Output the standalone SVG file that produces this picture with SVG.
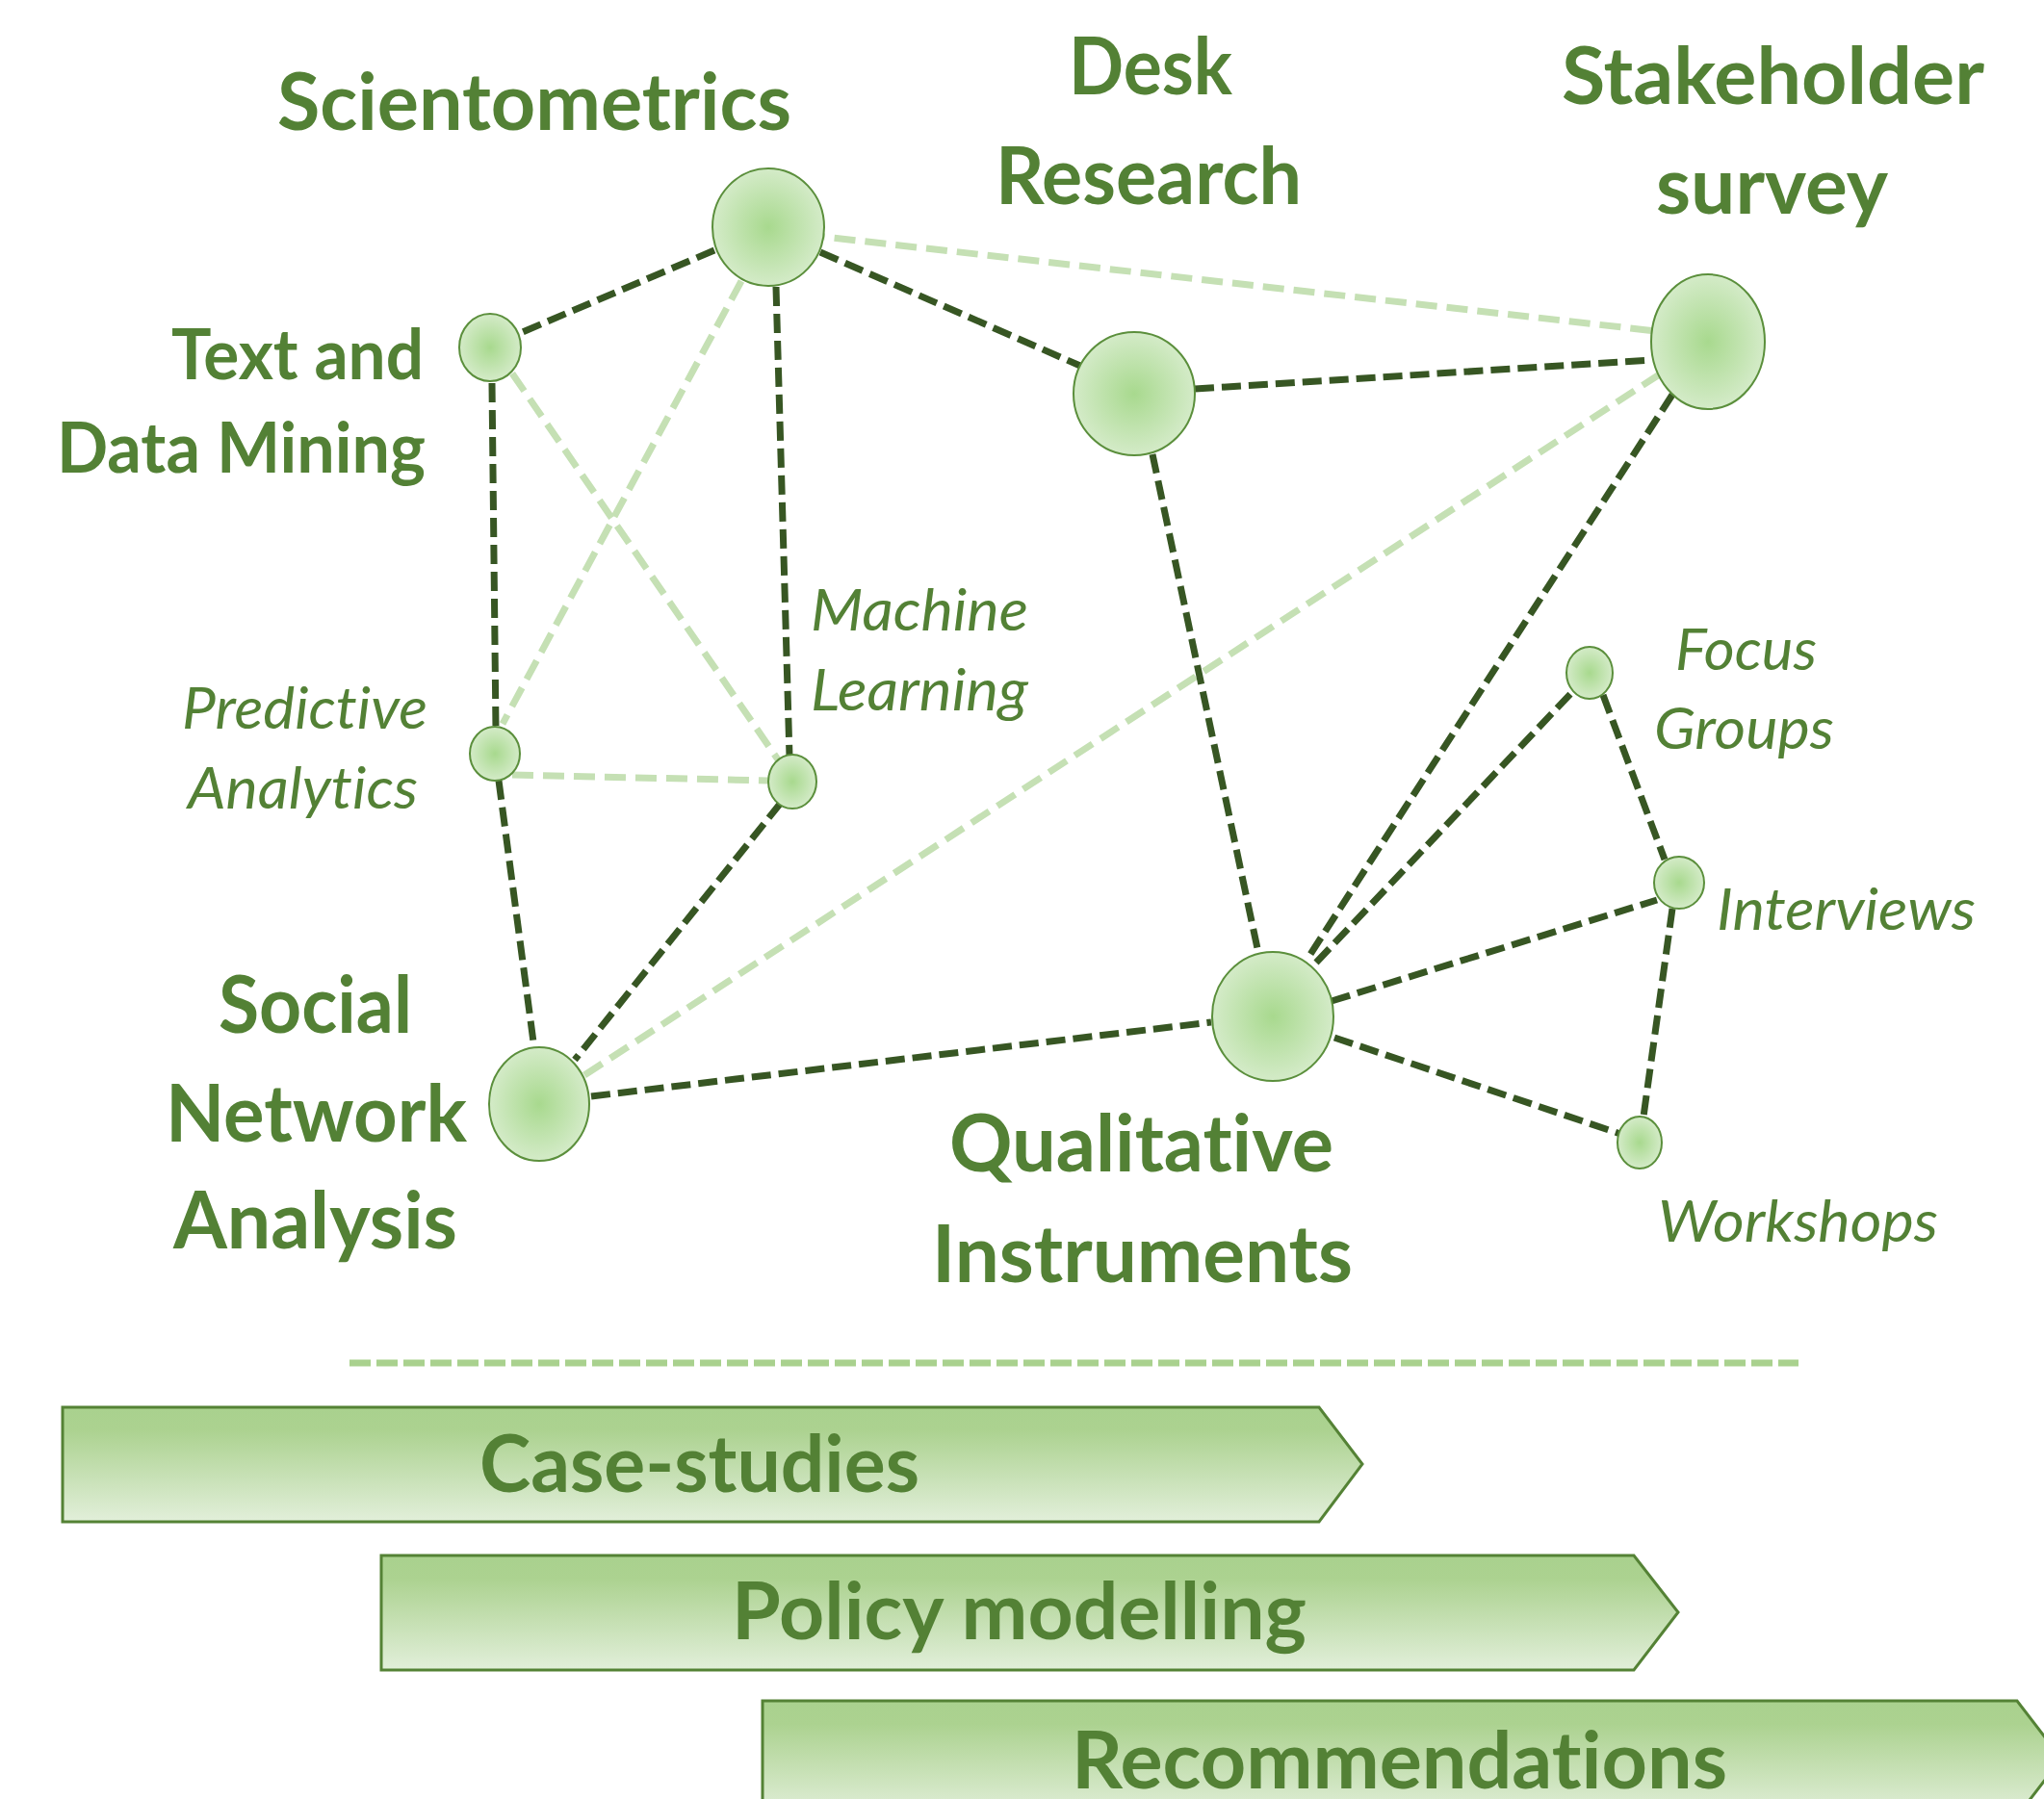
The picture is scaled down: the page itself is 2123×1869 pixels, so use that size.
<svg xmlns="http://www.w3.org/2000/svg" width="2123" height="1869" viewBox="0 0 2123 1869">
<style>
.t{font-family:Lato,"Open Sans","Liberation Sans",sans-serif;font-weight:bold;fill:#538135;font-variant-ligatures:none}
.big{font-size:82px}
.mid{font-size:73px}
.it{font-family:Lato,"Open Sans","Liberation Sans",sans-serif;font-style:italic;font-weight:normal;fill:#538135;font-size:60px;font-variant-ligatures:none}
.dk{stroke:#375623;stroke-width:7;stroke-dasharray:20 8;fill:none}
.lt{stroke:#c5e0b4;stroke-width:7;stroke-dasharray:22 10;fill:none}
.node{fill:url(#ng);stroke:#5b8f3c;stroke-width:2}
.bar{fill:url(#bg);stroke:#548235;stroke-width:3}
</style>
<defs>
<radialGradient id="ng" cx="0.5" cy="0.5" r="0.5">
<stop offset="0" stop-color="#a8d98e"/>
<stop offset="1" stop-color="#d4ebc8"/>
</radialGradient>
<linearGradient id="bg" x1="0" y1="0" x2="0" y2="1">
<stop offset="0" stop-color="#a9d18e"/>
<stop offset="0.2" stop-color="#acd290"/>
<stop offset="1" stop-color="#e2efda"/>
</linearGradient>
</defs>
<rect width="2123" height="1869" fill="#ffffff"/>

<g id="connectors">
<line class="lt" x1="803" y1="240" x2="1773" y2="350"/>
<line class="lt" x1="770" y1="292" x2="522" y2="752"/>
<line class="lt" x1="532" y1="388" x2="810" y2="792"/>
<line class="lt" x1="532" y1="805" x2="798" y2="811"/>
<line class="lt" x1="607" y1="1117" x2="1722" y2="390"/>
<line class="dk" x1="742" y1="260" x2="538" y2="347"/>
<line class="dk" x1="852" y1="262" x2="1122" y2="380"/>
<line class="dk" x1="806" y1="298" x2="820" y2="786"/>
<line class="dk" x1="511" y1="398" x2="515" y2="758"/>
<line class="dk" x1="518" y1="811" x2="555" y2="1090"/>
<line class="dk" x1="811" y1="834" x2="597" y2="1101"/>
<line class="dk" x1="614" y1="1139" x2="1258" y2="1062"/>
<line class="dk" x1="1241" y1="404" x2="1716" y2="374"/>
<line class="dk" x1="1197" y1="472" x2="1307" y2="990"/>
<line class="dk" x1="1737" y1="410" x2="1358" y2="996"/>
<line class="dk" x1="1367" y1="1000" x2="1633" y2="719"/>
<line class="dk" x1="1665" y1="722" x2="1729" y2="893"/>
<line class="dk" x1="1383" y1="1040" x2="1721" y2="935"/>
<line class="dk" x1="1737" y1="944" x2="1707" y2="1160"/>
<line class="dk" x1="1386" y1="1078" x2="1683" y2="1178"/>
</g>

<g id="node-scientometrics">
<ellipse class="node" cx="798" cy="236" rx="58" ry="61"/>
<text class="t big" x="288" y="135" textLength="534" lengthAdjust="spacingAndGlyphs">Scientometrics</text>
</g>
<g id="node-desk-research">
<ellipse class="node" cx="1178" cy="409" rx="63" ry="64"/>
<text class="t big" x="1110" y="98" textLength="170" lengthAdjust="spacingAndGlyphs">Desk</text>
<text class="t big" x="1034" y="212" textLength="318" lengthAdjust="spacingAndGlyphs">Research</text>
</g>
<g id="node-stakeholder-survey">
<ellipse class="node" cx="1774" cy="355" rx="59" ry="70"/>
<text class="t big" x="1622" y="108" textLength="439" lengthAdjust="spacingAndGlyphs">Stakeholder</text>
<text class="t big" x="1720" y="222" textLength="241" lengthAdjust="spacingAndGlyphs">survey</text>
</g>
<g id="node-text-data-mining">
<ellipse class="node" cx="509" cy="361" rx="32" ry="35"/>
<text class="t mid" x="178" y="394" textLength="262" lengthAdjust="spacingAndGlyphs">Text and</text>
<text class="t mid" x="59" y="491" textLength="383" lengthAdjust="spacingAndGlyphs">Data Mining</text>
</g>
<g id="node-predictive-analytics">
<ellipse class="node" cx="514" cy="783" rx="26" ry="28"/>
<text class="it" x="189" y="757" textLength="255" lengthAdjust="spacingAndGlyphs">Predictive</text>
<text class="it" x="195" y="840" textLength="239" lengthAdjust="spacingAndGlyphs">Analytics</text>
</g>
<g id="node-machine-learning">
<ellipse class="node" cx="823" cy="812" rx="25" ry="28"/>
<text class="it" x="842" y="655" textLength="226" lengthAdjust="spacingAndGlyphs">Machine</text>
<text class="it" x="842" y="738" textLength="226" lengthAdjust="spacingAndGlyphs">Learning</text>
</g>
<g id="node-social-network-analysis">
<ellipse class="node" cx="560" cy="1147" rx="52" ry="59"/>
<text class="t big" x="227" y="1073" textLength="201" lengthAdjust="spacingAndGlyphs">Social</text>
<text class="t big" x="172" y="1186" textLength="313" lengthAdjust="spacingAndGlyphs">Network</text>
<text class="t big" x="180" y="1297" textLength="295" lengthAdjust="spacingAndGlyphs">Analysis</text>
</g>
<g id="node-qualitative-instruments">
<ellipse class="node" cx="1322" cy="1056" rx="63" ry="67"/>
<text class="t big" x="986" y="1217" textLength="399" lengthAdjust="spacingAndGlyphs">Qualitative</text>
<text class="t big" x="968" y="1332" textLength="437" lengthAdjust="spacingAndGlyphs">Instruments</text>
</g>
<g id="node-focus-groups">
<ellipse class="node" cx="1651" cy="699" rx="24" ry="27"/>
<text class="it" x="1740" y="696" textLength="147" lengthAdjust="spacingAndGlyphs">Focus</text>
<text class="it" x="1718" y="778" textLength="187" lengthAdjust="spacingAndGlyphs">Groups</text>
</g>
<g id="node-interviews">
<ellipse class="node" cx="1744" cy="917" rx="26" ry="27"/>
<text class="it" x="1783" y="966" textLength="269" lengthAdjust="spacingAndGlyphs">Interviews</text>
</g>
<g id="node-workshops">
<ellipse class="node" cx="1703" cy="1187" rx="23" ry="27"/>
<text class="it" x="1722" y="1290" textLength="291" lengthAdjust="spacingAndGlyphs">Workshops</text>
</g>

<g id="separator">
<line x1="363" y1="1416" x2="1868" y2="1416" stroke="#a9d18e" stroke-width="7" stroke-dasharray="22 6"/>
</g>

<g id="bar-case-studies">
<polygon class="bar" points="65,1462 1370,1462 1415,1521 1370,1581 65,1581"/>
<text class="t big" x="498" y="1550" textLength="457" lengthAdjust="spacingAndGlyphs">Case-studies</text>
</g>
<g id="bar-policy-modelling">
<polygon class="bar" points="396,1616 1697,1616 1743,1675 1697,1735 396,1735"/>
<text class="t big" x="760" y="1703" textLength="597" lengthAdjust="spacingAndGlyphs">Policy modelling</text>
</g>
<g id="bar-recommendations">
<polygon class="bar" points="792,1767 2095,1767 2141,1827 2095,1887 792,1887"/>
<text class="t big" x="1113" y="1858" textLength="681" lengthAdjust="spacingAndGlyphs">Recommendations</text>
</g>
</svg>
